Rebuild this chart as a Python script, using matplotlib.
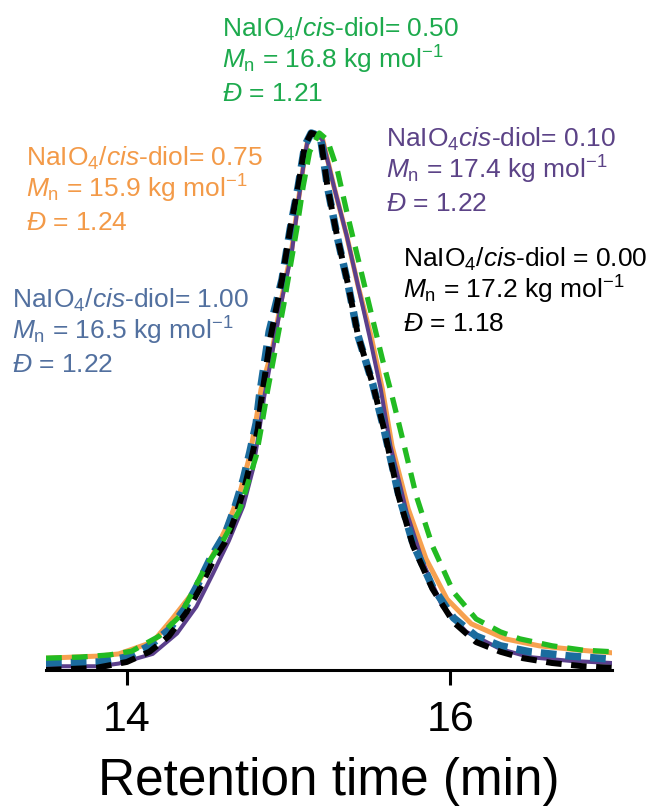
import numpy as np
import matplotlib
matplotlib.use("Agg")
import matplotlib.pyplot as plt

plt.rcParams['font.family'] = ['Liberation Sans', 'DejaVu Sans']
plt.rcParams['mathtext.fontset'] = 'custom'
plt.rcParams['mathtext.rm'] = 'Liberation Sans'
plt.rcParams['mathtext.it'] = 'Liberation Sans:italic'
plt.rcParams['mathtext.bf'] = 'Liberation Sans:bold'

# retention time (min) / normalised RI signal
t_000 = [13.50, 13.81, 14.00, 14.14, 14.26, 14.37, 14.45, 14.53, 14.62, 14.68, 14.73, 14.77, 14.81,
         14.83, 14.89, 14.96, 15.01, 15.06, 15.10, 15.14, 15.16, 15.20, 15.24, 15.30, 15.37, 15.43,
         15.52, 15.59, 15.68, 15.77, 15.89, 16.02, 16.16, 16.31, 16.45, 16.63, 16.82, 17.00]
s_000 = [0.000, 0.004, 0.015, 0.034, 0.063, 0.108, 0.151, 0.201, 0.244, 0.294, 0.343, 0.393, 0.449,
         0.500, 0.622, 0.728, 0.821, 0.901, 0.976, 1.000, 0.998, 0.987, 0.901, 0.808, 0.715, 0.622,
         0.533, 0.449, 0.324, 0.231, 0.151, 0.089, 0.052, 0.034, 0.022, 0.013, 0.007, 0.004]

t_010 = [13.50, 13.83, 13.95, 14.16, 14.31, 14.43, 14.53, 14.63, 14.72, 14.78, 14.82, 14.85, 14.90,
         14.96, 15.02, 15.06, 15.10, 15.12, 15.15, 15.18, 15.21, 15.28, 15.36, 15.43, 15.50, 15.57,
         15.63, 15.73, 15.83, 15.95, 16.10, 16.31, 16.49, 16.74, 17.00]
s_010 = [0.007, 0.007, 0.012, 0.030, 0.068, 0.118, 0.178, 0.240, 0.305, 0.374, 0.449, 0.510, 0.592,
         0.691, 0.778, 0.871, 0.957, 0.989, 1.000, 0.996, 0.987, 0.901, 0.808, 0.715, 0.622, 0.523,
         0.417, 0.294, 0.201, 0.119, 0.071, 0.039, 0.024, 0.017, 0.013]

t_050 = [13.50, 13.71, 13.89, 14.03, 14.20, 14.33, 14.49, 14.59, 14.70, 14.80, 14.83, 14.87, 14.92,
         14.97, 15.01, 15.05, 15.09, 15.13, 15.19, 15.24, 15.30, 15.36, 15.42, 15.50, 15.58, 15.64,
         15.69, 15.79, 15.89, 16.02, 16.16, 16.31, 16.43, 16.63, 16.82, 17.00]
s_050 = [0.022, 0.024, 0.028, 0.035, 0.063, 0.101, 0.194, 0.238, 0.300, 0.399, 0.449, 0.520, 0.600,
         0.680, 0.750, 0.820, 0.900, 0.965, 1.000, 0.987, 0.933, 0.853, 0.778, 0.678, 0.579, 0.510,
         0.449, 0.324, 0.231, 0.145, 0.095, 0.071, 0.058, 0.045, 0.037, 0.034]

t_075 = [13.50, 13.83, 13.95, 14.16, 14.28, 14.41, 14.51, 14.62, 14.70, 14.76, 14.80, 14.83, 14.90,
         14.96, 15.02, 15.06, 15.10, 15.12, 15.15, 15.18, 15.21, 15.28, 15.36, 15.43, 15.51, 15.58,
         15.64, 15.74, 15.85, 15.98, 16.13, 16.34, 16.55, 16.80, 17.00]
s_075 = [0.022, 0.026, 0.030, 0.052, 0.095, 0.145, 0.201, 0.268, 0.331, 0.399, 0.467, 0.523, 0.598,
         0.696, 0.784, 0.873, 0.957, 0.989, 1.000, 0.996, 0.989, 0.901, 0.808, 0.715, 0.622, 0.523,
         0.417, 0.300, 0.207, 0.132, 0.086, 0.058, 0.045, 0.037, 0.032]

t_100 = [13.50, 13.83, 14.00, 14.14, 14.26, 14.36, 14.44, 14.52, 14.61, 14.67, 14.72, 14.76, 14.80,
         14.82, 14.88, 14.96, 15.01, 15.06, 15.10, 15.14, 15.16, 15.20, 15.24, 15.30, 15.37, 15.43,
         15.52, 15.59, 15.68, 15.77, 15.89, 16.02, 16.16, 16.31, 16.49, 16.74, 17.00]
s_100 = [0.013, 0.015, 0.024, 0.045, 0.075, 0.115, 0.160, 0.210, 0.255, 0.305, 0.355, 0.405, 0.460,
         0.510, 0.630, 0.728, 0.821, 0.901, 0.976, 1.000, 0.998, 0.987, 0.901, 0.808, 0.715, 0.622,
         0.533, 0.449, 0.328, 0.235, 0.155, 0.097, 0.063, 0.045, 0.034, 0.026, 0.020]

ratios = ["0.00", "0.10", "0.50", "0.75", "1.00"]
mn = ["17.2", "17.4", "16.8", "15.9", "16.5"]
dispersity = ["1.18", "1.22", "1.21", "1.24", "1.22"]

fig = plt.figure(figsize=(6.55, 8.12), dpi=100)
ax = fig.add_axes([46/655, 141/812, 566/655, 553/812])

ax.plot(t_075, s_075, color='#f7a14f', lw=3.6)
ax.plot(t_010, s_010, color='#5b3f8c', lw=2.9)
ax.plot(t_100, s_100, color='#1b6c9e', lw=5.4, ls=(0, (2.1, 1.2)))
ax.plot(t_000, s_000, color='black', lw=4.3, ls=(0, (2.6, 1.6)))
ax.plot(t_050, s_050, color='#22bb22', lw=3.8, ls=(0, (3.0, 1.9)))

ax.set_xlim(13.5, 17.0)
ax.set_ylim(0, 553/537)
ax.set_yticks([])
ax.set_xticks([14, 16])
ax.tick_params(axis='x', direction='out', length=11, width=2.2, pad=10, labelsize=31)
for side in ['left', 'top', 'right']:
    ax.spines[side].set_visible(False)
ax.spines['bottom'].set_linewidth(2.2)
ax.set_xlabel('Retention time (min)', fontsize=37, labelpad=12)

# annotation blocks: (left px, first baseline px, colour, first line, index)
blocks = [
    (403, 267, 'black', r"NaIO$_4$/$\mathit{cis}$-diol = " + ratios[0], 0),
    (386, 147, '#5c4387', r"NaIO$_4$$\mathit{cis}$-diol= " + ratios[1], 1),
    (222, 37, '#1daa4d', r"NaIO$_4$/$\mathit{cis}$-diol= " + ratios[2], 2),
    (26, 166, '#f39a48', r"NaIO$_4$/$\mathit{cis}$-diol= " + ratios[3], 3),
    (12, 308, '#52709f', r"NaIO$_4$/$\mathit{cis}$-diol= " + ratios[4], 4),
]
for x0, y0, col, first, i in blocks:
    lines = [first,
             r"$M_\mathrm{n}$ = " + mn[i] + r" kg mol$^{-1}$",
             r"$\mathit{Đ}$ = " + dispersity[i]]
    for k, txt in enumerate(lines):
        fig.text(x0/655, 1 - (y0 + 32*k)/812, txt, color=col, fontsize=19,
                 ha='left', va='baseline')

fig.savefig('out.png', dpi=100)
